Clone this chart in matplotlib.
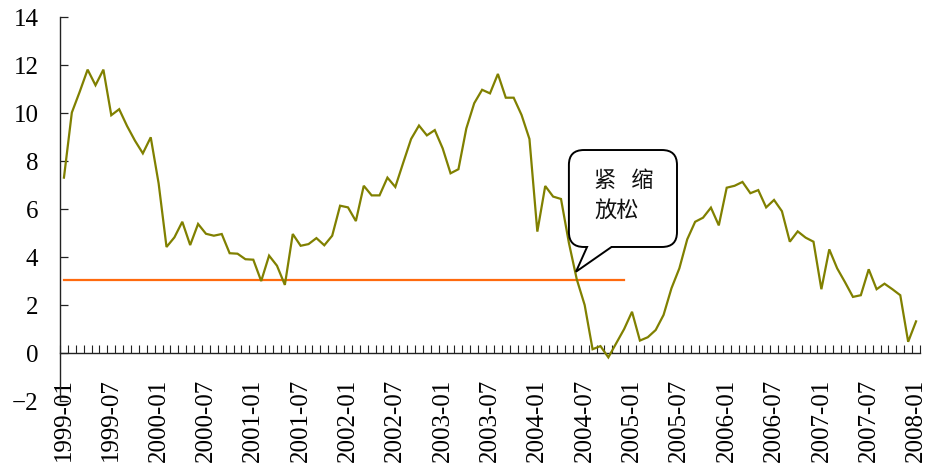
import matplotlib
matplotlib.use("Agg")
import matplotlib.pyplot as plt
from matplotlib.path import Path
from matplotlib.patches import PathPatch
import numpy as np
import pandas as pd

# Monthly series, 1999-01 .. 2008-01
months = pd.period_range("1999-01", "2008-01", freq="M").strftime("%Y-%m").tolist()
values = [
    7.32, 10.03, 10.90, 11.82, 11.17, 11.82, 9.92, 10.17, 9.47, 8.86, 8.33, 9.00,
    7.08, 4.43, 4.83, 5.48, 4.51, 5.39, 4.98, 4.90, 4.97, 4.17, 4.15, 3.92,
    3.90, 3.01, 4.07, 3.65, 2.85, 4.97, 4.48, 4.55, 4.80, 4.50, 4.90, 6.15,
    6.08, 5.51, 6.98, 6.58, 6.58, 7.32, 6.93, 7.94, 8.93, 9.49, 9.08, 9.30,
    8.54, 7.50, 7.67, 9.37, 10.42, 10.98, 10.83, 11.64, 10.65, 10.65, 9.93, 8.93,
    5.07, 6.97, 6.53, 6.43, 4.60, 3.08, 2.01, 0.17, 0.30, -0.17, 0.42, 1.01,
    1.73, 0.53, 0.67, 0.97, 1.60, 2.71, 3.54, 4.75, 5.48, 5.65, 6.07, 5.33,
    6.90, 6.98, 7.14, 6.67, 6.80, 6.08, 6.39, 5.92, 4.65, 5.08, 4.82, 4.65,
    2.67, 4.33, 3.54, 2.96, 2.35, 2.42, 3.50, 2.67, 2.90, 2.67, 2.42, 0.48,
    1.33,
]
# Reference level, 1999-01 .. 2004-12
ref_level = 3.05
ref_months = 72
ref_values = [ref_level] * ref_months

label_step = 6
callout_lines = ["紧   缩", "放松"]

plt.rcParams["font.family"] = ["Liberation Serif", "DejaVu Serif"]
plt.rcParams["axes.unicode_minus"] = True

fig = plt.figure(figsize=(9.38, 4.72), dpi=100)
ax = fig.add_axes([60 / 938, (472 - 401.3) / 472, 860 / 938, 384 / 472])

x = np.arange(len(values))
ax.plot(x, values, color="#808000", lw=1.6, solid_joinstyle="miter", zorder=3)
ax.plot(np.arange(len(ref_values)), ref_values, color="#FF6A0E", lw=1.6, zorder=2)

ax.set_xlim(-0.5, len(values) - 0.5)
ax.set_ylim(-2, 14)

for s in ("top", "right"):
    ax.spines[s].set_visible(False)
ax.spines["bottom"].set_position(("data", 0))
for s in ("left", "bottom"):
    ax.spines[s].set_linewidth(1.0)
    ax.spines[s].set_color("#222222")

ax.set_yticks(np.arange(-2, 15, 2))
ax.tick_params(axis="y", direction="in", length=5.8, width=0.9, pad=15.5,
               labelsize=18, color="#222222")

ax.set_xticks(np.arange(0, len(values), label_step))
ax.set_xticklabels(months[::label_step], rotation=90, va="top", ha="center")
ax.set_xticks(np.arange(-0.5, len(values), 1.0), minor=True)
ax.tick_params(axis="x", which="major", length=0, pad=18, labelsize=18)
ax.tick_params(axis="x", which="minor", direction="in", length=5.8, width=0.8,
               color="#222222")

# Speech-bubble callout
x0, x1, y0, y1 = 64.0, 77.7, 4.43, 8.47
rx, ry = 1.9, 0.62
tx0, tx1 = 66.3, 69.4
tip = (64.9, 3.40)
verts = [
    (x0 + rx, y1), (x1 - rx, y1),
    (x1, y1), (x1, y1 - ry),
    (x1, y0 + ry),
    (x1, y0), (x1 - rx, y0),
    (tx1, y0), tip, (tx0, y0),
    (x0 + rx, y0),
    (x0, y0), (x0, y0 + ry),
    (x0, y1 - ry),
    (x0, y1), (x0 + rx, y1),
    (x0 + rx, y1),
]
codes = [
    Path.MOVETO, Path.LINETO,
    Path.CURVE3, Path.CURVE3,
    Path.LINETO,
    Path.CURVE3, Path.CURVE3,
    Path.LINETO, Path.LINETO, Path.LINETO,
    Path.LINETO,
    Path.CURVE3, Path.CURVE3,
    Path.LINETO,
    Path.CURVE3, Path.CURVE3,
    Path.CLOSEPOLY,
]
bubble = PathPatch(Path(verts, codes), facecolor="white", edgecolor="black",
                   lw=1.4, joinstyle="miter", zorder=4)
ax.add_patch(bubble)

cjk = ["Noto Sans CJK SC", "DejaVu Sans"]
ax.text(67.2, 7.22, callout_lines[0], family=cjk, fontsize=16, fontweight="light",
        ha="left", va="center", color="#111111", zorder=5)
ax.text(67.2, 5.93, callout_lines[1], family=cjk, fontsize=16, fontweight="light",
        ha="left", va="center", color="#111111", zorder=5)

fig.savefig("out.png", dpi=100)
